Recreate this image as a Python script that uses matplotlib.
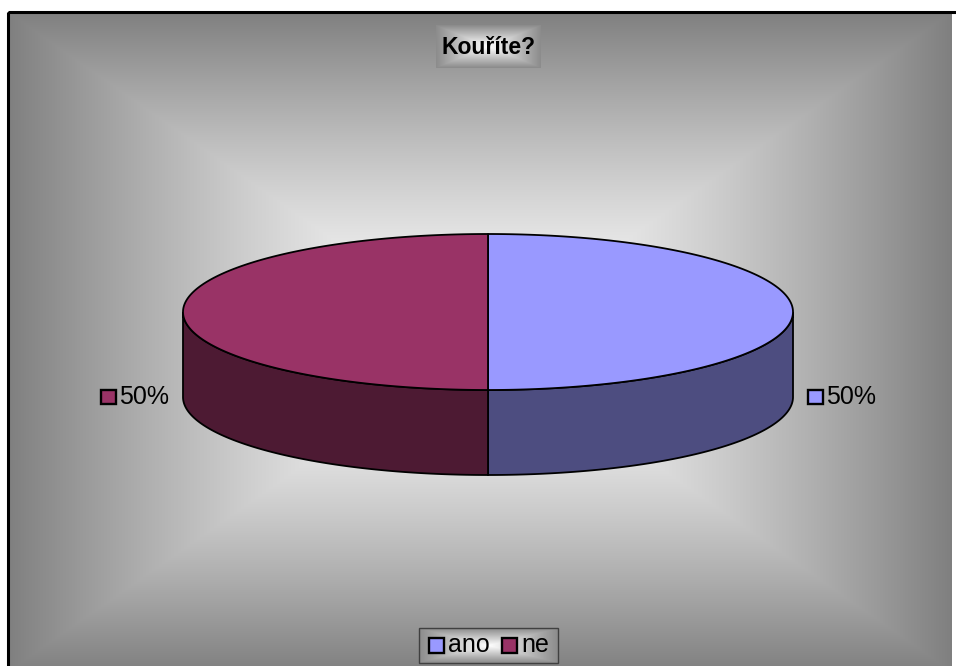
import numpy as np
import matplotlib
matplotlib.use("Agg")
import matplotlib.pyplot as plt
from matplotlib.patches import Polygon, Rectangle
from matplotlib.colors import to_rgb
from matplotlib.offsetbox import DrawingArea, TextArea, HPacker, AnnotationBbox

title = "Kouříte?"
categories = ["ano", "ne"]
values = [50, 50]
top_colors = ["#9999FF", "#993366"]

W, H = 956, 666
FONT = "Liberation Sans"
plt.rcParams["font.family"] = [FONT, "DejaVu Sans"]

fig = plt.figure(figsize=(W / 100, H / 100), dpi=100)
fig.patch.set_facecolor("white")
ax = fig.add_axes([0, 0, 1, 1])
ax.axis("off")


def rect_gradient(x0, x1, y0, y1, inner=1.0, outer=0.5, power=1.0, zorder=0):
    """Rectangular 'from centre' gradient: light in the middle, grey towards the edges."""
    nx, ny = max(int(x1 - x0), 2), max(int(y1 - y0), 2)
    xs = np.linspace(-1, 1, nx)
    ys = np.linspace(-1, 1, ny)
    gx, gy = np.meshgrid(xs, ys)
    t = np.maximum(np.abs(gx), np.abs(gy)) ** power
    v = inner + (outer - inner) * t
    img = np.dstack([v, v, v])
    ax.imshow(img, extent=(x0, x1, y1, y0), origin="upper", zorder=zorder,
              interpolation="bilinear", aspect="auto")


# chart area background and frame
rect_gradient(8, 952, 12, 672, inner=1.0, outer=0.5, power=1.35, zorder=0)
ax.add_patch(Rectangle((8.5, 12), 960, 700, fill=False, edgecolor="black",
                       linewidth=2.2, zorder=1))

# 3-D pie geometry (pixel space)
cx, cy, a, b, depth = 488, 312, 305, 78, 85


def pt(theta_deg, dy=0.0):
    t = np.radians(theta_deg)
    return cx + a * np.cos(t), cy - b * np.sin(t) + dy


total = float(sum(values))
slices = []
start = 90.0
for cat, val, col in zip(categories, values, top_colors):
    sweep = val / total * 360.0
    slices.append((cat, val, col, start, start - sweep))
    start -= sweep

# outer walls (front half only)
for cat, val, col, t_start, t_end in slices:
    side = tuple(c * 0.5 for c in to_rgb(col))
    for k in range(-2, 2):
        lo = max(t_end, -180 + 360 * k)
        hi = min(t_start, 0 + 360 * k)
        if hi > lo:
            th = np.linspace(lo, hi, 200)
            top = [pt(t) for t in th]
            bot = [pt(t, depth) for t in th[::-1]]
            ax.add_patch(Polygon(top + bot, closed=True, facecolor=side,
                                 edgecolor="black", linewidth=1.3, zorder=2))

# top faces
for cat, val, col, t_start, t_end in slices:
    th = np.linspace(t_start, t_end, 300)
    verts = [(cx, cy)] + [pt(t) for t in th]
    ax.add_patch(Polygon(verts, closed=True, facecolor=col, edgecolor="black",
                         linewidth=1.3, zorder=3, joinstyle="round"))


def key_box(color):
    da = DrawingArea(12.5, 12.5, 0, 0)
    da.add_artist(Rectangle((0.9, 0.9), 10.7, 10.7, facecolor=color,
                            edgecolor="black", linewidth=1.7))
    return da


# data labels with legend keys
for cat, val, col, t_start, t_end in slices:
    mid = np.radians((t_start + t_end) / 2.0)
    cosm = np.cos(mid)
    x = cx + (a + 14) * cosm
    y = cy + depth
    txt = TextArea(f"{val / total * 100:.0f}%",
                   textprops=dict(fontsize=18, family=FONT, color="black"))
    box = HPacker(children=[key_box(col), txt], sep=1.5, align="center", pad=0)
    align = (0.0, 0.5) if cosm >= 0 else (1.0, 0.5)
    ax.add_artist(AnnotationBbox(box, (x, y), xycoords="data", frameon=False,
                                 box_alignment=align, pad=0, zorder=5))

# title
rect_gradient(436, 541, 25, 68, inner=1.0, outer=0.55, power=1.0, zorder=4)
ax.text(488.5, 47, title, ha="center", va="center", fontsize=16.5,
        fontweight="bold", family=FONT, color="black", zorder=5)

# legend
rect_gradient(419, 558, 628, 663, inner=1.0, outer=0.55, power=1.0, zorder=4)
ax.add_patch(Rectangle((419, 628), 139, 35, fill=False, edgecolor="#404040",
                       linewidth=1.0, zorder=5))
items = []
for cat, col in zip(categories, top_colors):
    items.append(HPacker(children=[key_box(col),
                                   TextArea(cat, textprops=dict(fontsize=18, family=FONT))],
                         sep=2, align="center", pad=0))
leg = HPacker(children=items, sep=8, align="center", pad=0)
ax.add_artist(AnnotationBbox(leg, (488.5, 645.5), xycoords="data", frameon=False,
                             box_alignment=(0.5, 0.5), pad=0, zorder=6))

ax.set_xlim(0, W)
ax.set_ylim(H, 0)
fig.savefig("out.png", dpi=100, facecolor="white")
